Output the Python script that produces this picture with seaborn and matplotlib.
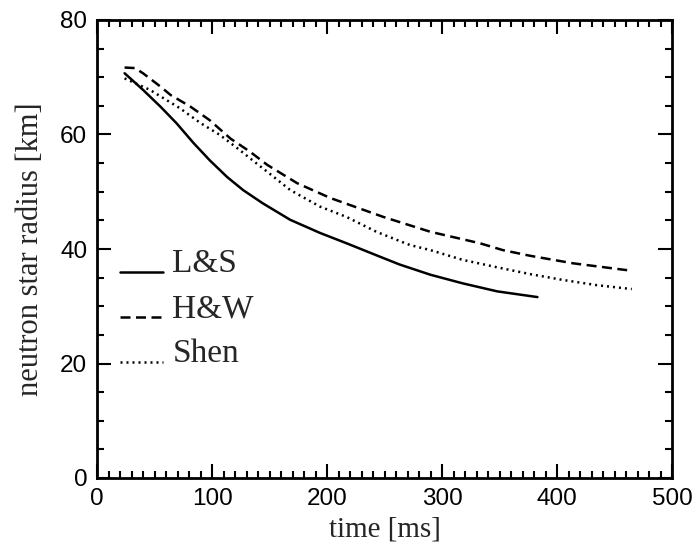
import numpy as np
import pandas as pd
import matplotlib
matplotlib.use("Agg")
import matplotlib.pyplot as plt
import seaborn as sns
from matplotlib.ticker import MultipleLocator
from matplotlib.legend_handler import HandlerLine2D

# --- data ---
t_ls = [24, 40, 55, 69, 84, 98, 113, 127, 144, 168, 194, 217, 243, 263, 290, 318, 348, 383]
r_ls = [70.7, 67.8, 64.9, 62.0, 58.5, 55.5, 52.6, 50.3, 48.0, 45.1, 42.8, 41.0, 38.9, 37.3, 35.5, 34.0, 32.6, 31.6]

t_hw = [24, 33, 40, 55, 64, 81, 98, 116, 133, 148, 174, 203, 249, 290, 333, 353, 377, 414, 461]
r_hw = [71.7, 71.6, 70.7, 68.4, 66.9, 64.9, 62.5, 59.3, 57.0, 54.7, 51.5, 48.9, 45.6, 43.0, 41.0, 39.8, 38.8, 37.5, 36.3]

t_sh = [24, 46, 72, 90, 107, 124, 139, 148, 168, 194, 217, 243, 272, 290, 318, 348, 377, 405, 434, 465]
r_sh = [69.8, 67.8, 64.6, 62.0, 59.9, 57.3, 54.9, 53.5, 50.3, 47.4, 45.6, 43.0, 40.7, 39.8, 38.1, 36.8, 35.6, 34.6, 33.7, 33.0]

labels = ["L&S", "H&W", "Shen"]

df = pd.concat([
    pd.DataFrame({"time": t_ls, "radius": r_ls, "model": labels[0]}),
    pd.DataFrame({"time": t_hw, "radius": r_hw, "model": labels[1]}),
    pd.DataFrame({"time": t_sh, "radius": r_sh, "model": labels[2]}),
])

sns.set_style("ticks")
plt.rcParams["font.family"] = ["Liberation Serif", "DejaVu Serif"]

fig = plt.figure(figsize=(6.98, 5.53), dpi=100)
ax = fig.add_axes([97/698, 1-478/553, (672-97)/698, (478-20)/553])

dashes = {"L&S": "", "H&W": (4, 2.2), "Shen": (0.8, 1.6)}
sns.lineplot(data=df, x="time", y="radius", style="model", dashes=dashes,
             color="black", linewidth=1.8, ax=ax, legend=False,
             estimator=None, sort=False)

ax.set_xlim(0, 500)
ax.set_ylim(0, 80)
ax.xaxis.set_major_locator(MultipleLocator(100))
ax.xaxis.set_minor_locator(MultipleLocator(10))
ax.yaxis.set_major_locator(MultipleLocator(20))
ax.yaxis.set_minor_locator(MultipleLocator(5))
ax.tick_params(which="both", direction="in", top=True, right=True, width=1.5, colors="black")
ax.tick_params(which="major", length=10, pad=7)
ax.tick_params(which="minor", length=5)
for lab in ax.get_xticklabels() + ax.get_yticklabels():
    lab.set_fontfamily(["Liberation Sans", "DejaVu Sans"])
    lab.set_fontsize(17.5)
for s in ax.spines.values():
    s.set_linewidth(2)
    s.set_color("black")

ax.set_xlabel("time [ms]", fontsize=21, labelpad=5)
ax.set_ylabel("neutron star radius [km]", fontsize=22, labelpad=11)


class LowLine(HandlerLine2D):
    def create_artists(self, legend, orig_handle, xdescent, ydescent,
                       width, height, fontsize, trans):
        arts = super().create_artists(legend, orig_handle, xdescent, ydescent,
                                      width, height, fontsize, trans)
        for a in arts:
            a.set_ydata(np.asarray(a.get_ydata()) - 8)
        return arts


handles = [ax.lines[i] for i in range(3)]
leg = ax.legend(handles, labels, loc="upper left", bbox_to_anchor=(0.04, 0.50),
                frameon=False, fontsize=24, handlelength=1.3, handletextpad=0.27,
                labelspacing=0.43, borderpad=0, borderaxespad=0,
                handler_map={h: LowLine() for h in handles})

fig.savefig("out.png", dpi=100)
